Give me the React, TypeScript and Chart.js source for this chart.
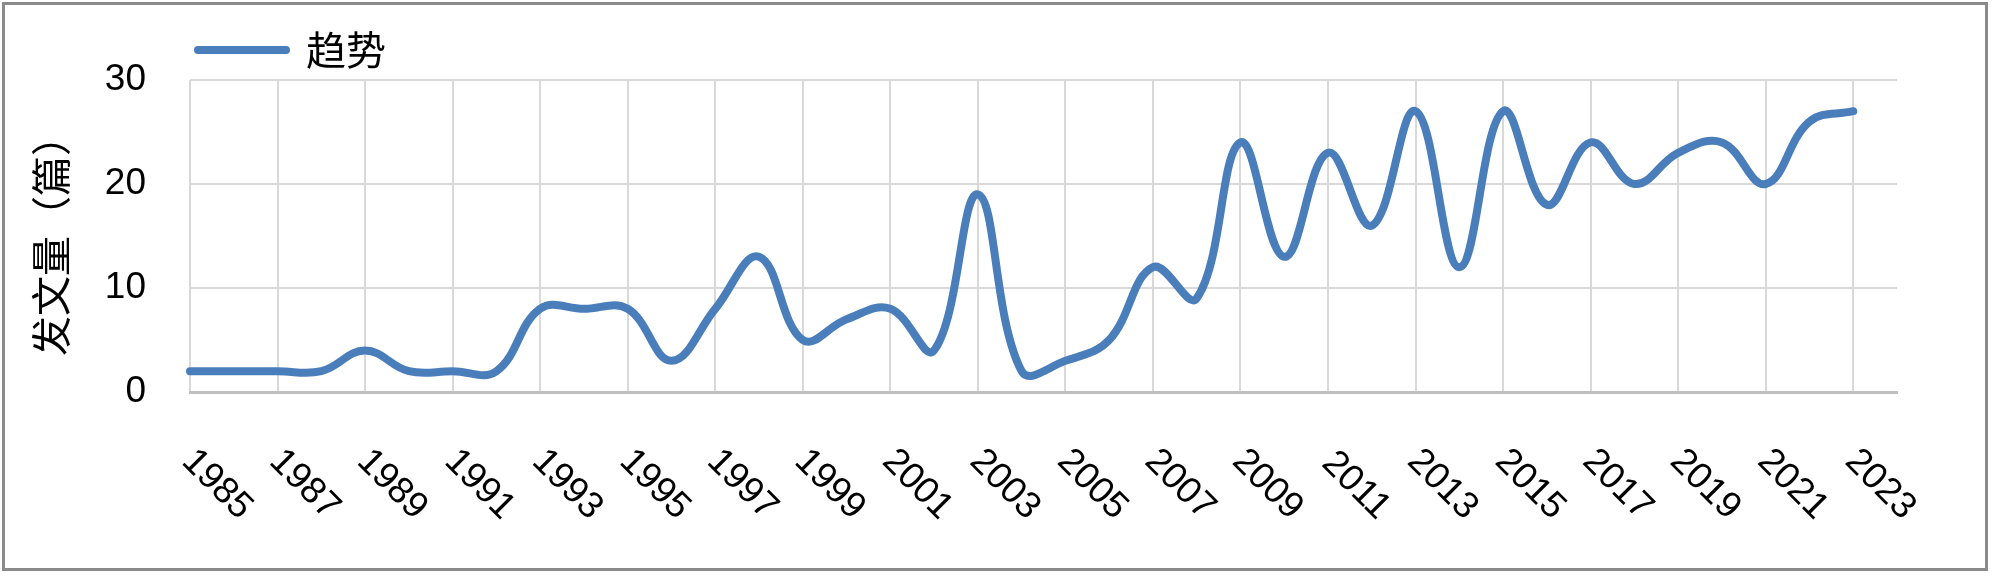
import React, { useEffect, useRef } from 'react';
import { Chart, registerables } from 'chart.js';

Chart.register(...registerables);

// Categories (one empty slot after 2023, as in the reference axis)
const years = [
  '1985', '1986', '1987', '1988', '1989', '1990', '1991', '1992', '1993', '1994',
  '1995', '1996', '1997', '1998', '1999', '2000', '2001', '2002', '2003', '2004',
  '2005', '2006', '2007', '2008', '2009', '2010', '2011', '2012', '2013', '2014',
  '2015', '2016', '2017', '2018', '2019', '2020', '2021', '2022', '2023', '2024',
];

// Publications per year
const counts: (number | null)[] = [
  2, 2, 2, 2, 4, 2, 2, 2, 8, 8,
  8, 3, 8, 13, 5, 7, 8, 4, 19, 2,
  3, 5, 12, 9, 24, 13, 23, 16, 27, 12,
  27, 18, 24, 20, 23, 24, 20, 26, 27, null,
];

const seriesName = '趋势';
const yTitle = '发文量（篇）';
const yMin = 0;
const yMax = 30;
const yStep = 10;

const framePlugin = {
  id: 'frame',
  beforeDraw(chart: any) {
    const c = chart.ctx;
    c.save();
    c.fillStyle = '#ffffff';
    c.fillRect(0, 0, chart.width, chart.height);
    c.strokeStyle = '#8a8a8a';
    c.lineWidth = 3;
    c.strokeRect(3.5, 3.5, 1983, 566);
    c.restore();
  },
};

export default function App() {
  const ref = useRef<HTMLCanvasElement>(null);

  useEffect(() => {
    if (!ref.current) return;
    const chart = new Chart(ref.current, {
      type: 'line',
      data: {
        labels: years,
        datasets: [
          {
            label: seriesName,
            data: counts,
            borderColor: '#4A7EBB',
            backgroundColor: '#4A7EBB',
            borderWidth: 8,
            pointRadius: 0,
            pointHoverRadius: 0,
            tension: 0.4,
            borderCapStyle: 'round',
            borderJoinStyle: 'round',
          },
        ],
      },
      plugins: [framePlugin],
      options: {
        animation: false,
        responsive: false,
        devicePixelRatio: 1,
        events: [],
        layout: { padding: { left: 20, right: 102, top: 22, bottom: 0 } },
        plugins: {
          tooltip: { enabled: false },
          legend: {
            display: true,
            position: 'top',
            align: 'start',
            fullSize: false,
            labels: {
              usePointStyle: true,
              pointStyle: 'line',
              pointStyleWidth: 88,
              padding: 8,
              color: '#000000',
              font: { family: "'Noto Sans CJK SC'", size: 40 },
              generateLabels: (ch: any) =>
                Chart.defaults.plugins.legend.labels
                  .generateLabels(ch)
                  .map((it: any) => ({ ...it, lineWidth: 8, lineCap: 'round' })),
            },
          },
        },
        scales: {
          x: {
            type: 'category',
            afterFit: (s: any) => {
              s.height = 189;
            },
            grid: {
              color: (ctx: any) => (ctx.index % 2 === 0 ? '#d9d9d9' : 'rgba(0,0,0,0)'),
              lineWidth: 2,
              drawTicks: true,
              tickLength: 100,
              tickColor: 'rgba(0,0,0,0)',
            },
            border: { display: true, color: '#bfbfbf', width: 3 },
            ticks: {
              autoSkip: false,
              minRotation: -45,
              maxRotation: -45,
              padding: 6,
              labelOffset: 56,
              color: '#000000',
              font: { family: "'Liberation Sans'", size: 37 },
              callback: (_v: any, i: number) => (i % 2 === 0 ? years[i] : ''),
            },
          },
          y: {
            min: yMin,
            max: yMax,
            afterFit: (s: any) => {
              s.width = 170;
            },
            grid: { color: '#d9d9d9', lineWidth: 2, drawTicks: false },
            border: { display: false },
            ticks: {
              stepSize: yStep,
              padding: 44,
              color: '#000000',
              font: { family: "'Liberation Sans'", size: 37 },
            },
            title: {
              display: true,
              text: yTitle,
              color: '#000000',
              padding: { top: 7, bottom: 0 },
              font: { family: "'Noto Sans CJK SC'", size: 40 },
            },
          },
        },
      },
    } as any);
    return () => chart.destroy();
  }, []);

  return (
    <div style={{ position: 'fixed', left: 0, top: 0, width: 1999, height: 581, background: '#fff' }}>
      <canvas ref={ref} width={1999} height={581} style={{ display: 'block', width: 1999, height: 581 }} />
    </div>
  );
}
